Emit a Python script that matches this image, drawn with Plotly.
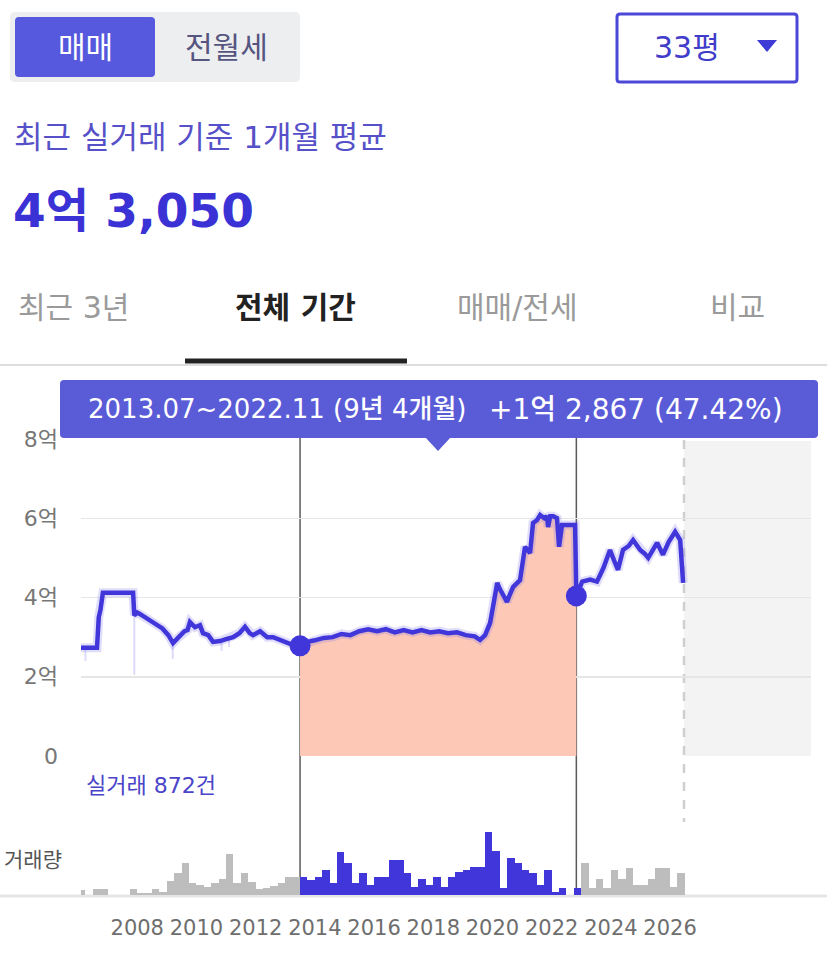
import plotly.graph_objects as go

W, H = 827, 961
FONT = "Noto Sans CJK KR"
FONT_W = "DejaVu Sans, Noto Sans CJK KR"   # wide digits, Korean fallback

# ---------------- data ----------------
price_t = [2006.10, 2006.64, 2006.70, 2006.76, 2006.84, 2007.86, 2007.90, 2008.00, 2008.10, 2008.35,
           2008.60, 2008.85, 2009.05, 2009.21, 2009.40, 2009.60, 2009.70, 2009.78, 2009.95, 2010.12,
           2010.22, 2010.40, 2010.56, 2010.80, 2011.00, 2011.24, 2011.45, 2011.64, 2011.80, 2011.91,
           2012.15, 2012.39, 2012.59, 2012.75, 2012.93, 2013.20, 2013.50,
           2013.75, 2014.00, 2014.30, 2014.60, 2014.90, 2015.20, 2015.50, 2015.80, 2016.10, 2016.40,
           2016.70, 2017.00, 2017.30, 2017.60, 2017.90, 2018.20, 2018.50, 2018.80, 2019.10, 2019.40,
           2019.58, 2019.75, 2019.92, 2020.05, 2020.16, 2020.26, 2020.38, 2020.49, 2020.60, 2020.70,
           2020.93, 2021.10, 2021.27, 2021.37, 2021.50, 2021.61, 2021.75, 2021.84, 2021.88, 2021.95,
           2022.05, 2022.18, 2022.25, 2022.35, 2022.55, 2022.79, 2022.833,
           2023.03, 2023.30, 2023.53, 2023.75, 2023.97, 2024.10, 2024.24, 2024.41, 2024.60, 2024.75,
           2024.99, 2025.15, 2025.26, 2025.56, 2025.76, 2025.95, 2026.17, 2026.34, 2026.44]
price_v = [2.73, 2.73, 3.50, 3.70, 4.12, 4.12, 3.55, 3.62, 3.58, 3.45,
           3.35, 3.22, 3.05, 2.85, 3.00, 3.15, 3.18, 3.38, 3.25, 3.30,
           3.10, 3.05, 2.88, 2.90, 2.95, 3.00, 3.10, 3.26, 3.10, 3.05,
           3.15, 3.00, 3.00, 2.95, 2.90, 2.82, 2.78,
           2.88, 2.92, 2.98, 3.00, 3.08, 3.05, 3.15, 3.20, 3.15, 3.20,
           3.12, 3.18, 3.12, 3.18, 3.12, 3.15, 3.10, 3.12, 3.05, 3.02,
           2.93, 3.05, 3.36, 3.90, 4.37, 4.20, 4.05, 3.89, 4.10, 4.27,
           4.44, 5.28, 5.12, 5.88, 5.95, 6.08, 6.00, 6.05, 5.78, 6.05,
           6.05, 6.00, 5.28, 5.83, 5.83, 5.83, 4.04,
           4.40, 4.45, 4.40, 4.75, 5.20, 4.95, 4.70, 5.20, 5.30, 5.45,
           5.20, 5.10, 5.00, 5.38, 5.08, 5.40, 5.66, 5.45, 4.37]

# faint individual-trade dips (from line value down to the low trade)
dip_t = [2006.25, 2007.90, 2009.20, 2010.85, 2011.10]
dip_hi = [2.73, 3.55, 2.85, 2.90, 2.95]
dip_lo = [2.40, 2.05, 2.45, 2.65, 2.75]

# quarterly trade counts, 2006 Q1 ... 2026 Q2
vol_start_year = 2006
volume = [5, 0, 6, 6, 0, 0, 0, 6, 2, 2, 6, 3, 14, 22, 32, 12, 10, 8, 12, 16,
          41, 12, 22, 13, 6, 7, 9, 12, 18, 18, 18, 15, 18, 25, 12, 43, 32, 12, 22, 10,
          18, 18, 35, 35, 22, 8, 16, 10, 18, 8, 18, 23, 25, 28, 28, 63, 44, 7, 37, 32,
          25, 22, 10, 25, 3, 7, 0, 7, 32, 7, 16, 7, 25, 16, 27, 10, 10, 16, 27, 27, 8, 22]

sel_start = 2013.5      # 2013.07
sel_end = 2022.833      # 2022.11
today = 2026.47

year_ticks = [2008, 2010, 2012, 2014, 2016, 2018, 2020, 2022, 2024, 2026]
price_ticks = [0, 2, 4, 6, 8]
price_tick_text = ["0", "2억", "4억", "6억", "8억"]

x_range = [2006.10, 2030.76]

# ---------------- helpers ----------------
def px(x):
    return x / W

def py(y):
    return 1 - y / H

def rrect(x0, y0, x1, y1, r):
    pts = [
        f"M{px(x0 + r)},{py(y0)}", f"L{px(x1 - r)},{py(y0)}", f"Q{px(x1)},{py(y0)} {px(x1)},{py(y0 + r)}",
        f"L{px(x1)},{py(y1 - r)}", f"Q{px(x1)},{py(y1)} {px(x1 - r)},{py(y1)}",
        f"L{px(x0 + r)},{py(y1)}", f"Q{px(x0)},{py(y1)} {px(x0)},{py(y1 - r)}",
        f"L{px(x0)},{py(y0 + r)}", f"Q{px(x0)},{py(y0)} {px(x0 + r)},{py(y0)}", "Z"]
    return " ".join(pts)

def note(x, y, text, size, color, anchor="left", family=FONT_W, weight=None):
    f = dict(family=family, size=size, color=color)
    if weight:
        f["weight"] = weight
    return dict(x=px(x), y=py(y), xref="paper", yref="paper", xanchor=anchor, yanchor="middle",
                text=text, showarrow=False, font=f)

BLUE = "#4136d9"
fig = go.Figure()

# fill of selected range
fill_t = [t for t in price_t if sel_start <= t <= sel_end]
fill_v = [v for t, v in zip(price_t, price_v) if sel_start <= t <= sel_end]
fig.add_trace(go.Scatter(x=fill_t, y=fill_v, mode="lines", line=dict(width=0),
                         fill="tozeroy", fillcolor="rgb(253,201,182)", hoverinfo="skip",
                         xaxis="x", yaxis="y"))

# faint dips
dx, dy = [], []
for t, hi, lo in zip(dip_t, dip_hi, dip_lo):
    dx += [t, t, None]
    dy += [hi, lo, None]
fig.add_trace(go.Scatter(x=dx, y=dy, mode="lines", line=dict(color="rgba(120,110,230,0.25)", width=2),
                         hoverinfo="skip", xaxis="x", yaxis="y"))

# faint halo + main line
fig.add_trace(go.Scatter(x=price_t, y=price_v, mode="lines",
                         line=dict(color="rgba(130,120,235,0.25)", width=9),
                         hoverinfo="skip", xaxis="x", yaxis="y"))
fig.add_trace(go.Scatter(x=price_t, y=price_v, mode="lines", line=dict(color=BLUE, width=4.5),
                         hoverinfo="skip", xaxis="x", yaxis="y"))

# markers at selection ends
mk_v = [price_v[price_t.index(sel_start)], price_v[price_t.index(sel_end)]]
fig.add_trace(go.Scatter(x=[sel_start, sel_end], y=mk_v, mode="markers",
                         marker=dict(color=BLUE, size=21), hoverinfo="skip", xaxis="x", yaxis="y"))

# volume bars
vol_x = [vol_start_year + i * 0.25 + 0.125 for i in range(len(volume))]
vol_c = [BLUE if (sel_start <= x - 0.125 <= sel_end) else "#bdbdbd" for x in vol_x]
fig.add_trace(go.Bar(x=vol_x, y=volume, width=0.25, marker=dict(color=vol_c, line=dict(width=0)),
                     hoverinfo="skip", xaxis="x2", yaxis="y2"))

shapes = []
annotations = []

# ---------- chart furniture ----------
shapes.append(dict(type="rect", xref="x", yref="paper", x0=today, x1=x_range[1],
                   y0=py(756), y1=py(441), fillcolor="#f3f3f3", line=dict(width=0), layer="below"))
shapes.append(dict(type="line", xref="x", yref="paper", x0=today, x1=today, y0=py(440), y1=py(822),
                   line=dict(color="#cfcfcf", width=2.5, dash="dash"), layer="between"))
for t in (sel_start, sel_end):
    shapes.append(dict(type="line", xref="x", yref="paper", x0=t, x1=t, y0=py(895), y1=py(438),
                       line=dict(color="#5a5a5a", width=1.5), layer="between"))
shapes.append(dict(type="line", xref="paper", yref="paper", x0=0, x1=1, y0=py(896), y1=py(896),
                   line=dict(color="#e6e6e6", width=3), layer="below"))

# tooltip box
shapes.append(dict(type="path", xref="paper", yref="paper", path=rrect(60, 380, 818, 438, 4),
                   fillcolor="#5a5bd7", line=dict(width=0), layer="above"))
shapes.append(dict(type="path", xref="paper", yref="paper",
                   path=f"M{px(425)},{py(437)} L{px(451)},{py(437)} L{px(438)},{py(451)} Z",
                   fillcolor="#5a5bd7", line=dict(width=0), layer="above"))
annotations.append(note(86, 409, "2013.07~2022.11 (9년 4개월)", 26, "white", weight=500))
annotations.append(note(487, 409, "+1억 2,867 (47.42%)", 28, "white", weight=500))

annotations.append(note(84, 785, "실거래 872건", 22, "#4a44c9"))
annotations.append(note(64, 860, "거래량", 21, "#555555", anchor="right"))

# ---------- header UI ----------
shapes.append(dict(type="path", xref="paper", yref="paper", path=rrect(10, 12, 300, 82, 5),
                   fillcolor="#edeef0", line=dict(width=0), layer="above"))
shapes.append(dict(type="path", xref="paper", yref="paper", path=rrect(15, 17, 155, 77, 4),
                   fillcolor="#5659dd", line=dict(width=0), layer="above"))
annotations.append(note(85, 47, "매매", 30, "white", anchor="center"))
annotations.append(note(226, 47, "전월세", 30, "#55557f", anchor="center"))

shapes.append(dict(type="path", xref="paper", yref="paper", path=rrect(617, 14, 797, 82, 3),
                   fillcolor="white", line=dict(color="#4b48d8", width=3), layer="above"))
annotations.append(note(687, 48, "33평", 30, "#3f3dc9", anchor="center"))
shapes.append(dict(type="path", xref="paper", yref="paper",
                   path=f"M{px(757)},{py(40)} L{px(777)},{py(40)} L{px(767)},{py(52)} Z",
                   fillcolor="#3d3ad6", line=dict(width=0), layer="above"))

annotations.append(note(12, 137, "최근 실거래 기준 1개월 평균", 31, "#5751c9"))
annotations.append(note(11, 210, "<b>4억 3,050</b>", 47, "#3b32d6"))

# tabs
tabs = [("최근 3년", 73, "#9a9a9a", False), ("전체 기간", 295, "#222222", True),
        ("매매/전세", 517, "#9a9a9a", False), ("비교", 737, "#9a9a9a", False)]
for label, cx, col, bold in tabs:
    annotations.append(note(cx, 307, f"<b>{label}</b>" if bold else label, 30, col, anchor="center"))
shapes.append(dict(type="line", xref="paper", yref="paper", x0=0, x1=1, y0=py(365), y1=py(365),
                   line=dict(color="#dddddd", width=2), layer="above"))
shapes.append(dict(type="line", xref="paper", yref="paper", x0=px(185), x1=px(407), y0=py(361), y1=py(361),
                   line=dict(color="#222222", width=5), layer="above"))

dom_x = [px(81), px(811)]
fig.update_layout(
    width=W, height=H, margin=dict(l=0, r=0, t=0, b=0), autosize=False,
    paper_bgcolor="white", plot_bgcolor="rgba(0,0,0,0)", showlegend=False,
    bargap=0, shapes=shapes, annotations=annotations,
    xaxis=dict(domain=dom_x, range=x_range, showticklabels=False, showgrid=False, zeroline=False,
               showline=False, fixedrange=True, anchor="y"),
    yaxis=dict(domain=[py(756), py(439)], range=[0, 8], tickvals=price_ticks, ticktext=price_tick_text,
               showgrid=True, gridcolor="#e6e6e6", gridwidth=1.5, zeroline=False, showline=False,
               ticks="", ticklabelstandoff=22, automargin=False,
               tickfont=dict(family=FONT_W, size=22, color="#777777"), anchor="x"),
    xaxis2=dict(domain=dom_x, range=x_range, tickvals=year_ticks, ticktext=[str(y) for y in year_ticks],
                showgrid=False, zeroline=False, showline=False, ticks="", ticklabelstandoff=18,
                automargin=False, tickfont=dict(family=FONT_W, size=21, color="#6e6e6e"), anchor="y2"),
    yaxis2=dict(domain=[py(895), py(820)], range=[0, 75], visible=False, anchor="x2"),
)

fig.write_html("out.html", config={"displayModeBar": False, "staticPlot": True},
               post_script="document.body.style.margin='0';")
